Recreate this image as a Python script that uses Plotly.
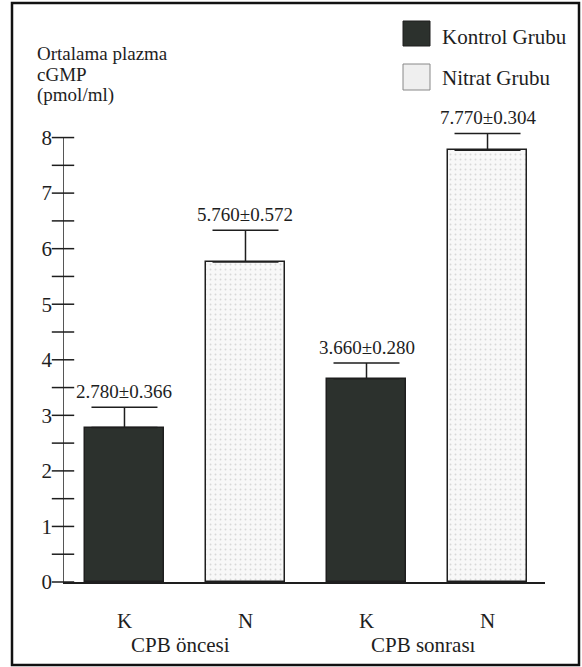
import plotly.graph_objects as go

# ---- data ----
categories = ["K", "N", "K", "N"]
groups = ["CPB öncesi", "CPB sonrası"]
series_names = ["Kontrol Grubu", "Nitrat Grubu"]
means = [2.780, 5.760, 3.660, 7.770]
errors = [0.366, 0.572, 0.280, 0.304]
series_of_bar = [0, 1, 0, 1]
y_ticks = [0, 1, 2, 3, 4, 5, 6, 7, 8]
y_minor = [0.5, 1.5, 2.5, 3.5, 4.5, 5.5, 6.5, 7.5]
y_title_lines = ["Ortalama plazma", "cGMP", "(pmol/ml)"]

# ---- layout geometry ----
W, H = 582, 667
ML, MR, MT, MB = 63, 37, 82, 85
XR = [-0.508, 3.475]
YR = [0, 9]
PW, PH = W - ML - MR, H - MT - MB

def px_x(px):
    return (px - ML) / PW

def px_y(py):
    return (H - MB - py) / PH

FONT = "Liberation Serif"
INK = "#1e1e1e"
DARK = "#2c312d"
LIGHT_BG = "#f8f8f8"

xs = list(range(len(categories)))
fig = go.Figure()

for s, name in enumerate(series_names):
    idx = [i for i in xs if series_of_bar[i] == s]
    marker = dict(line=dict(color=INK, width=1.5))
    if s == 0:
        marker["color"] = DARK
    else:
        marker["color"] = LIGHT_BG
        marker["pattern"] = dict(shape=".", fgcolor="#b8b8b8", bgcolor=LIGHT_BG,
                                 size=5, solidity=0.12)
    fig.add_trace(go.Bar(
        x=[xs[i] for i in idx], y=[means[i] for i in idx], name=name,
        width=0.66, marker=marker, showlegend=False,
        error_y=dict(type="data", array=[errors[i] for i in idx],
                     arrayminus=[0] * len(idx), symmetric=False,
                     color=INK, thickness=1.5, width=33),
    ))

# y-axis ticks crossing the axis
all_ticks = sorted(y_ticks + y_minor)
fig.add_trace(go.Scatter(
    x=[XR[0]] * len(all_ticks), y=all_ticks, mode="markers",
    marker=dict(symbol="line-ew", size=16, line=dict(color=INK, width=1.5)),
    cliponaxis=False, showlegend=False, hoverinfo="skip",
))

shapes = []
shapes.append(dict(type="line", xref="x", yref="y", x0=XR[0], x1=XR[0],
                   y0=0, y1=max(y_ticks), line=dict(color=INK, width=1.5)))
shapes.append(dict(type="line", xref="x", yref="y", x0=1.5, x1=1.5,
                   ysizemode="pixel", yanchor=0, y0=0, y1=-10,
                   line=dict(color=INK, width=1.5)))
shapes.append(dict(type="rect", xref="paper", yref="paper",
                   x0=px_x(12), x1=px_x(579), y0=px_y(665), y1=px_y(3),
                   line=dict(color="#111", width=2.5), fillcolor="rgba(0,0,0,0)"))
shapes.append(dict(type="rect", xref="paper", yref="paper",
                   x0=px_x(403), x1=px_x(430), y0=px_y(46), y1=px_y(21),
                   line=dict(color=INK, width=1), fillcolor=DARK))
shapes.append(dict(type="rect", xref="paper", yref="paper",
                   x0=px_x(403), x1=px_x(430), y0=px_y(90), y1=px_y(64),
                   line=dict(color="#888", width=1), fillcolor="#efefef"))

annotations = []
for i in xs:
    annotations.append(dict(
        x=xs[i], y=means[i] + errors[i], xref="x", yref="y",
        text=f"{means[i]:.3f}±{errors[i]:.3f}", showarrow=False,
        yanchor="bottom", yshift=3, font=dict(family=FONT, size=19, color=INK)))

for g, name in enumerate(groups):
    annotations.append(dict(
        x=2 * g + 0.5, y=px_y(645), xref="x", yref="paper", text=name,
        showarrow=False, xshift=-4, yanchor="middle",
        font=dict(family=FONT, size=21, color=INK)))

for name, yc in zip(series_names, [37, 78]):
    annotations.append(dict(
        x=px_x(440), y=px_y(yc), xref="paper", yref="paper", text=name,
        showarrow=False, xanchor="left", yanchor="middle",
        font=dict(family=FONT, size=21, color=INK)))

for line, yc in zip(y_title_lines, [54, 74, 95]):
    annotations.append(dict(
        x=px_x(35), y=px_y(yc), xref="paper", yref="paper",
        text=line, showarrow=False, xanchor="left", yanchor="middle",
        font=dict(family=FONT, size=19, color=INK)))

fig.update_layout(
    width=W, height=H, margin=dict(l=ML, r=MR, t=MT, b=MB),
    paper_bgcolor="white", plot_bgcolor="white",
    bargap=0, barmode="overlay",
    shapes=shapes, annotations=annotations, showlegend=False,
    xaxis=dict(range=XR, tickvals=xs, ticktext=categories, showgrid=False,
               zeroline=False, showline=True, linecolor=INK, linewidth=1.5,
               ticks="", ticklabelstandoff=19,
               tickfont=dict(family=FONT, size=21, color=INK)),
    yaxis=dict(range=YR, tickvals=y_ticks, showgrid=False, zeroline=False,
               showline=False, ticks="", ticklabelstandoff=10,
               tickfont=dict(family=FONT, size=21, color=INK)),
)

fig.write_html("out.html", config={"displayModeBar": False},
               post_script="document.body.style.margin='0';")
